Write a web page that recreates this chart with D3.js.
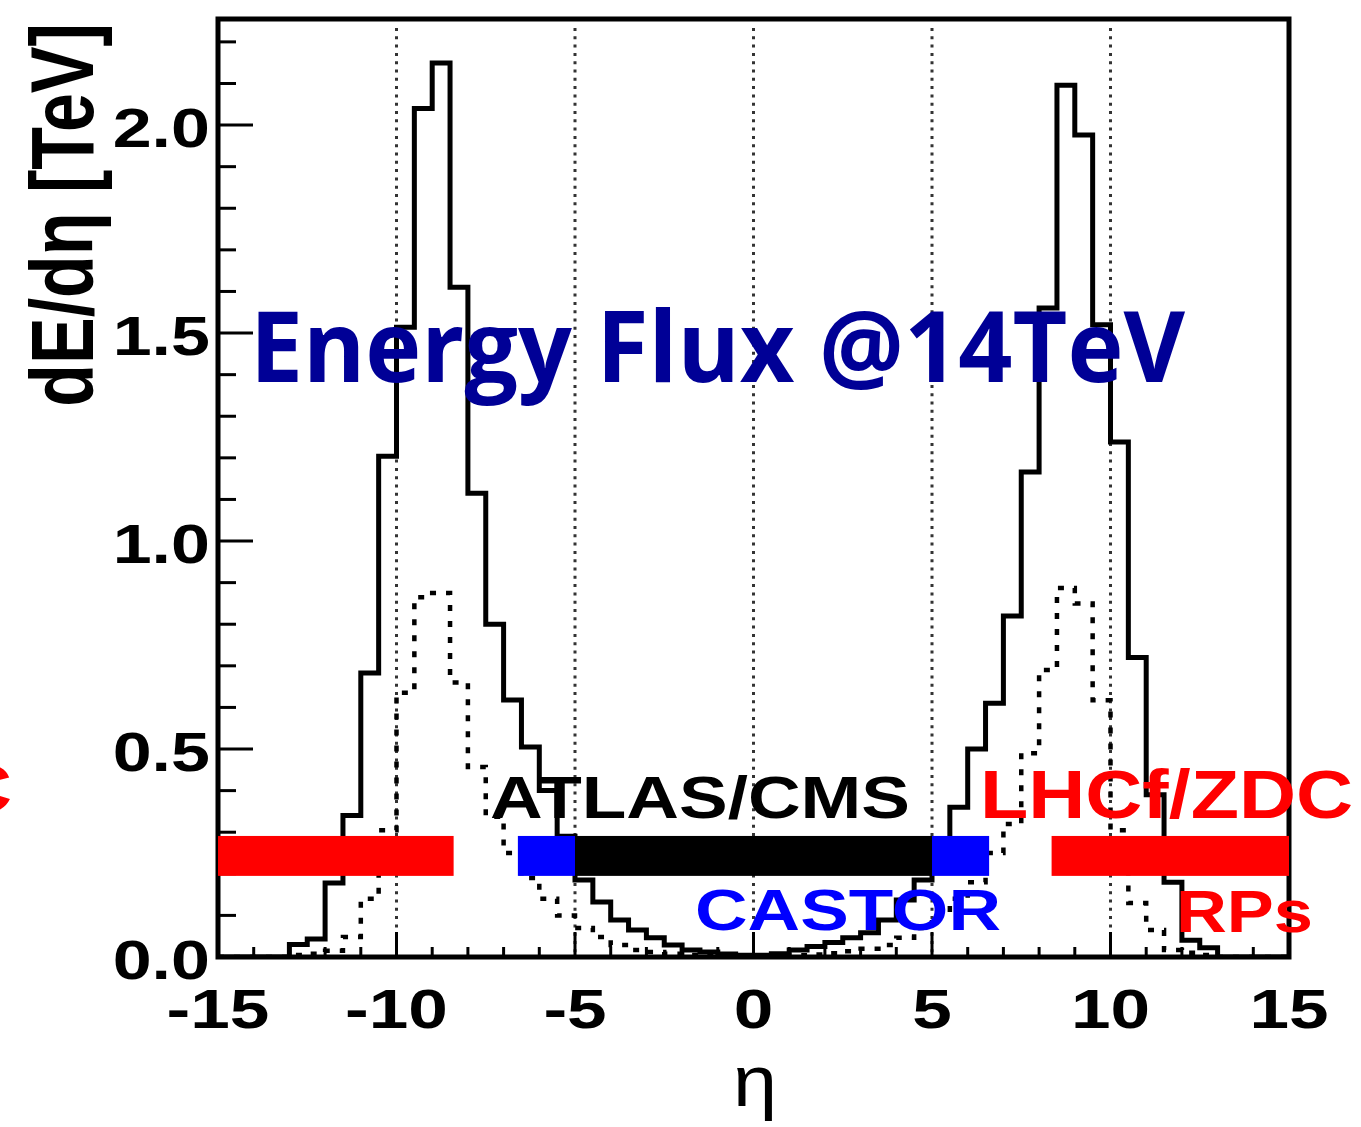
<!DOCTYPE html>
<html>
<head>
<meta charset="utf-8">
<script src="https://cdn.jsdelivr.net/npm/d3@7"></script>
<style>
  html, body { margin: 0; padding: 0; background: #fff; }
  svg { display: block; }
</style>
</head>
<body>
<svg id="chart" width="1361" height="1127"></svg>
<script>
// ---------------- DATA ----------------
// eta bin edges (0.5 wide bins)
const binEdges = [-15,-14.5,-14,-13.5,-13,-12.5,-12,-11.5,-11,-10.5,-10,-9.5,-9,-8.5,-8,-7.5,-7,-6.5,-6,-5.5,-5,-4.5,-4,-3.5,-3,-2.5,-2,-1.5,-1,-0.5,
                  0,0.5,1,1.5,2,2.5,3,3.5,4,4.5,5,5.5,6,6.5,7,7.5,8,8.5,9,9.5,10,10.5,11,11.5,12,12.5,13,13.5,14,14.5,15];
// solid histogram: dE/deta [TeV]
const solidValues = [0,0,0,0,
  0.03,0.043,0.178,0.34,0.683,1.204,1.514,2.04,2.149,1.61,
  1.115,0.80,0.618,0.505,0.40,0.29,0.185,0.132,0.089,0.065,
  0.046,0.029,0.017,0.012,0.007,0.004,
  0.004,0.008,0.017,0.025,0.035,0.046,0.058,0.089,0.137,0.185,
  0.27,0.36,0.50,0.61,0.82,1.166,1.56,2.096,1.976,1.52,
  1.238,0.72,0.39,0.18,0.04,0.022,
  0,0,0,0];
// dashed histogram
const dashedValues = [0,0,0,0,
  0.005,0.008,0.015,0.048,0.14,0.305,0.635,0.865,0.875,0.66,
  0.457,0.337,0.25,0.19,0.14,0.10,0.07,0.048,0.029,0.017,
  0.012,0.008,0.005,0.003,0.002,0.001,
  0.001,0.002,0.004,0.006,0.009,0.014,0.02,0.029,0.046,0.07,
  0.10,0.14,0.18,0.25,0.32,0.49,0.69,0.887,0.85,0.617,
  0.305,0.13,0.065,0.017,0.01,0.005,
  0,0,0,0];
// detector coverage bars (eta ranges)
const detectorNames = ["LHCf/ZDC","CASTOR","ATLAS/CMS","CASTOR","LHCf/ZDC"];
const detectorFrom  = [-15, -6.6, -5, 5, 8.35];
const detectorTo    = [-8.4, -5, 5, 6.6, 15];
const detectorColor = ["#ff0000","#0000ff","#000000","#0000ff","#ff0000"];
const barLevel = [0.195, 0.291];
const yTickLabels = ["0.0","0.5","1.0","1.5","2.0"];
const yTickValues = [0, 0.5, 1.0, 1.5, 2.0];
const xTickValues = [-15,-10,-5,0,5,10,15];
const xTickLabels = ["-15","-10","-5","0","5","10","15"];
const gridValues = [-10,-5,0,5,10];

// ---------------- LAYOUT ----------------
const svg = d3.select("#chart");
const L = 218, R = 1289, T = 19, B = 957;
const x = d3.scaleLinear().domain([-15, 15]).range([L, R]);
const y = d3.scaleLinear().domain([0, 2.255]).range([B, T]);

svg.append("defs").append("clipPath").attr("id","plotclip")
  .append("rect").attr("x", L).attr("y", T).attr("width", R-L).attr("height", B-T);

// dotted vertical lines
svg.append("g").selectAll("line").data(gridValues).join("line")
  .attr("x1", d => x(d)).attr("x2", d => x(d))
  .attr("y1", T + 9).attr("y2", B)
  .attr("stroke", "#333").attr("stroke-width", 3)
  .attr("stroke-dasharray", "3,5.3");

// histogram path builder
function histPoints(vals) {
  const pts = [[binEdges[0], 0]];
  vals.forEach((v, i) => { pts.push([binEdges[i], v]); pts.push([binEdges[i+1], v]); });
  pts.push([binEdges[binEdges.length-1], 0]);
  return pts;
}
const line = d3.line().x(d => x(d[0])).y(d => y(d[1]));

const hg = svg.append("g").attr("clip-path", "url(#plotclip)");
hg.append("path").attr("d", line(histPoints(dashedValues)))
  .attr("fill", "none").attr("stroke", "#000").attr("stroke-width", 4.5)
  .attr("stroke-dasharray", "6,10").attr("stroke-linejoin", "miter");
hg.append("path").attr("d", line(histPoints(solidValues)))
  .attr("fill", "none").attr("stroke", "#000").attr("stroke-width", 5)
  .attr("stroke-linejoin", "miter");

// axis ticks (inside)
const yMinor = d3.range(0, 2.25, 0.1);
svg.append("g").selectAll("line").data(yMinor).join("line")
  .attr("x1", L).attr("x2", (d, i) => L + (i % 5 === 0 ? 35 : 18))
  .attr("y1", d => y(d)).attr("y2", d => y(d))
  .attr("stroke", "#000").attr("stroke-width", 3);
const xMinor = d3.range(-15, 15.5, 1);
svg.append("g").selectAll("line").data(xMinor).join("line")
  .attr("x1", d => x(d)).attr("x2", d => x(d))
  .attr("y1", B).attr("y2", (d) => B - (Math.round(d) % 5 === 0 ? 25 : 10))
  .attr("stroke", "#000").attr("stroke-width", 3);

// frame
svg.append("rect").attr("x", L).attr("y", T).attr("width", R-L).attr("height", B-T)
  .attr("fill", "none").attr("stroke", "#000").attr("stroke-width", 5);

// detector bars
svg.append("g").selectAll("rect").data(detectorNames).join("rect")
  .attr("x", (d, i) => x(detectorFrom[i]))
  .attr("width", (d, i) => x(detectorTo[i]) - x(detectorFrom[i]))
  .attr("y", y(barLevel[1])).attr("height", y(barLevel[0]) - y(barLevel[1]))
  .attr("fill", (d, i) => detectorColor[i]);

// text helper
function addText(px, py, str, o) {
  const g = svg.append("g").attr("transform",
    `translate(${px},${py})` + (o.rot ? ` rotate(${o.rot})` : "") + ` scale(${o.sx || 1},${o.sy || 1})`);
  const t = g.append("text").attr("x", 0).attr("y", 0)
    .attr("font-family", o.family || "'Liberation Sans', Arial, sans-serif")
    .attr("font-weight", o.weight || "bold")
    .attr("font-size", o.size).attr("fill", o.fill || "#000")
    .attr("text-anchor", o.anchor || "start").text(str);
  if (o.len) t.attr("textLength", o.len).attr("lengthAdjust", "spacingAndGlyphs");
  return t;
}

// detector labels
addText(490, 818, "ATLAS/CMS", {size: 59, len: 420});
addText(980, 818, "LHCf/ZDC", {size: 68, fill: "#ff0000", len: 373});
addText(12 - 373, 812, "LHCf/ZDC", {size: 68, fill: "#ff0000", len: 373});
addText(695, 930, "CASTOR", {size: 58, fill: "#0000ff", len: 306});
addText(1176, 932, "RPs", {size: 60, fill: "#ff0000", len: 137});

// tick labels
yTickValues.forEach((v, i) => {
  addText(210, y(v) + 22, yTickLabels[i], {size: 56, anchor: "end", sx: 1.25});
});
xTickValues.forEach((v, i) => {
  addText(x(v), 1028, xTickLabels[i], {size: 56, anchor: "middle", sx: 1.27});
});

// axis titles
addText(93, 215, "dE/dη [TeV]", {size: 70, anchor: "middle", rot: -90, sy: 1.27});
addText(755, 1106, "η", {size: 72, anchor: "middle", weight: "normal", sx: 1.1});

// big title
addText(250, 382, "Energy Flux @14TeV", {size: 98, family: "'Open Sans', 'Noto Sans', sans-serif", fill: "#000096", len: 935});
</script>
</body>
</html>
